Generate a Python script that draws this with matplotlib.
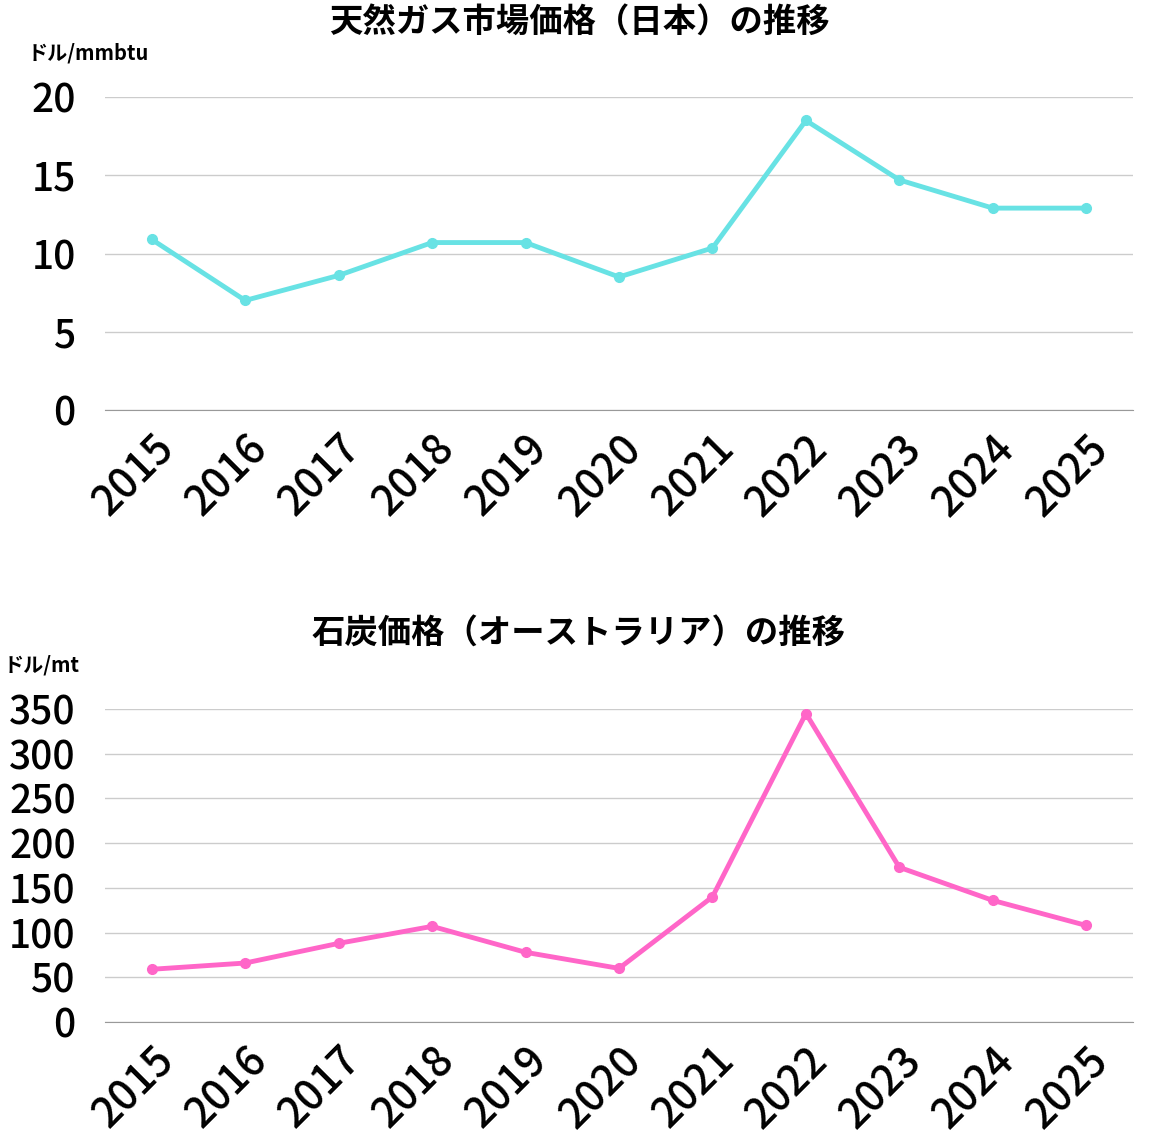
import matplotlib.pyplot as plt
import numpy as np

plt.rcParams['font.family'] = ['Noto Sans CJK JP', 'DejaVu Sans']

years = ['2015', '2016', '2017', '2018', '2019', '2020', '2021', '2022', '2023', '2024', '2025']
gas = [10.9, 7.0, 8.6, 10.7, 10.7, 8.5, 10.35, 18.5, 14.7, 12.9, 12.9]
coal = [59, 66, 88, 107, 78, 60, 140, 345, 173, 136, 108]

fig = plt.figure(figsize=(11.58, 11.44), dpi=100)

def panel(rect, vals, color, ymax, step, title, unit, title_y, unit_x, unit_y):
    ax = fig.add_axes(rect)
    x = np.arange(len(years))
    ax.plot(x, vals, color=color, lw=3.5, marker='o', ms=7, zorder=3)
    ax.set_xlim(-0.5, len(years) - 0.5)
    ax.set_ylim(0, ymax)
    ax.set_yticks(np.arange(0, ymax + 1, step))
    ax.set_xticks(x)
    ax.set_xticklabels(years, rotation=45, ha='right', rotation_mode='anchor')
    ax.grid(axis='y', color='#cccccc', lw=1)
    ax.set_axisbelow(True)
    for s in ['top', 'right', 'left']:
        ax.spines[s].set_visible(False)
    ax.spines['bottom'].set_color('#999999')
    ax.tick_params(axis='both', length=0)
    ax.tick_params(axis='y', pad=21, labelsize=28)
    ax.tick_params(axis='x', pad=12, labelsize=30)
    for lb in ax.get_xticklabels() + ax.get_yticklabels():
        lb.set_fontweight('medium')
    fig.text(0.5, title_y, title, ha='center', va='center', fontsize=24, fontweight='bold')
    fig.text(unit_x, unit_y, unit, ha='left', va='center', fontsize=14.5, fontweight='bold')
    return ax

panel([0.0907, 0.6416, 0.8877, 0.2736], gas, '#68e2e4', 20, 5,
      '天然ガス市場価格（日本）の推移', 'ドル/mmbtu', 1 - 22 / 1144, 28 / 1158, 1 - 53 / 1144)
panel([0.0907, 0.1066, 0.8877, 0.2736], coal, '#ff66c8', 350, 50,
      '石炭価格（オーストラリア）の推移', 'ドル/mt', 1 - 633 / 1144, 4 / 1158, 1 - 665 / 1144)

fig.savefig('out.png', dpi=100)
